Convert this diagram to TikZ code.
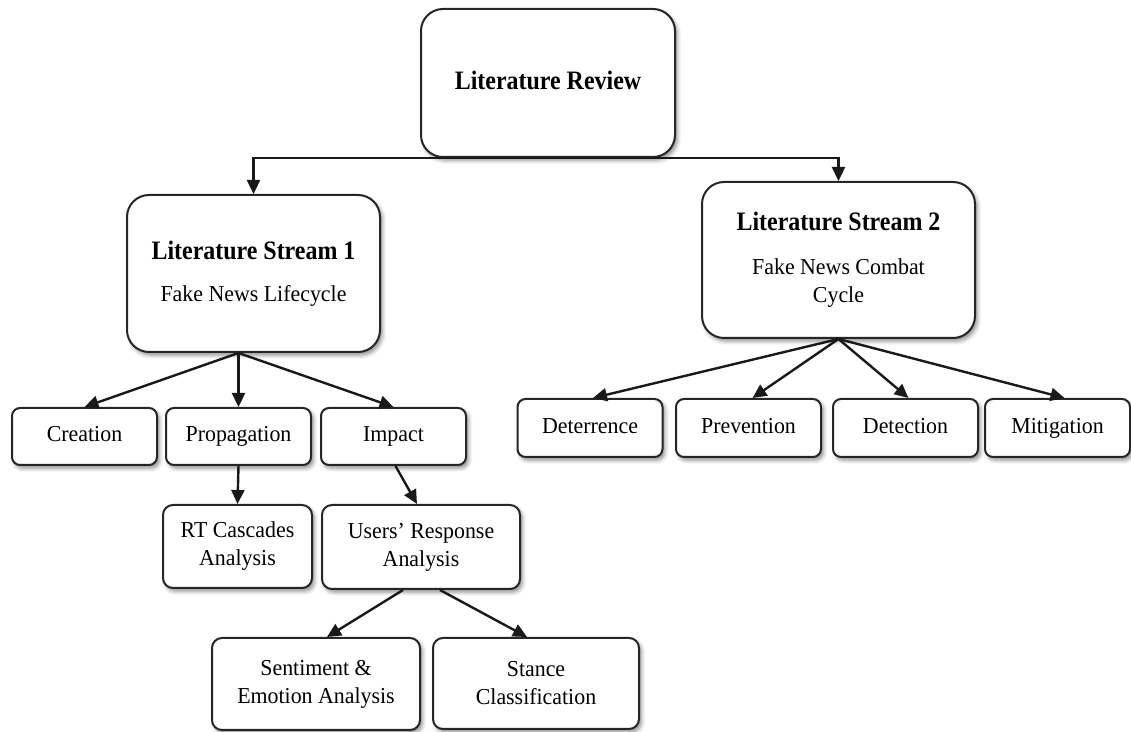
\documentclass[tikz,border=0pt]{standalone}
\usepackage{fontspec}
\setmainfont{Liberation Serif}[FakeStretch=0.96]
\newfontfamily\headfont{Liberation Serif}[FakeStretch=0.9]
\usetikzlibrary{arrows.meta,shadows.blur,calc}
\newcommand{\headtext}[1]{{\headfont\bfseries\fontsize{13.3}{14}\selectfont #1}}

\begin{document}
\begin{tikzpicture}[x=0.5pt,y=-0.5pt,
  box/.style={draw=black!85, line width=1pt, fill=white, rounded corners=4pt,
    align=center, inner sep=2pt, font=\fontsize{11.4}{14}\selectfont,
    blur shadow={shadow xshift=1.2pt, shadow yshift=-1.6pt,
      shadow blur radius=2pt, shadow opacity=45}},
  bigbox/.style={box, rounded corners=11pt},
  smallbox/.style={box, minimum width=72.5pt, minimum height=29pt,
    text height=8pt, text depth=2.5pt},
  link/.style={line width=1.2pt, draw=black!90,
    -{Triangle[length=7pt,width=6.5pt]}}
]
\useasboundingbox (0,0) rectangle (1131,732);

% top level
\node[bigbox, minimum width=127pt, minimum height=74pt] (review) at (548,83)
  {\raisebox{2.5pt}{\headtext{Literature Review}}};

% the two literature streams
\node[bigbox, minimum width=126.5pt, minimum height=78.5pt] (s1) at (253.5,273.5)
  {\raisebox{2pt}{\headtext{Literature Stream 1}}\\[7pt]\raisebox{2pt}{Fake News Lifecycle}};
\node[bigbox, minimum width=136.5pt, minimum height=78pt] (s2) at (838.5,260)
  {\headtext{Literature Stream 2}\\[8pt]Fake News Combat\\Cycle};

% stream 1: lifecycle stages
\node[smallbox, minimum height=28.5pt] (creation) at (84.5,436.5) {Creation};
\node[smallbox, minimum height=28.5pt] (prop) at (238.5,436.5) {Propagation};
\node[smallbox, minimum height=28.5pt] (impact) at (393.5,436.5) {Impact};

% stream 2: combat stages
\node[smallbox] (deter) at (590,428) {Deterrence};
\node[smallbox] (prev) at (748.5,428) {Prevention};
\node[smallbox] (detect) at (905.5,428) {Detection};
\node[smallbox] (mitig) at (1057.5,428) {Mitigation};

% analyses
\node[box, rounded corners=5pt, minimum width=74.5pt, minimum height=41.5pt] (rt) at (237.5,546.5)
  {RT Cascades\\Analysis};
\node[box, rounded corners=5pt, minimum width=99pt, minimum height=42pt] (users) at (421,547)
  {Users’ Response\\Analysis};
\node[box, rounded corners=5pt, minimum width=104pt, minimum height=46pt] (sent) at (316,684)
  {Sentiment \&\\Emotion Analysis};
\node[box, rounded corners=5pt, minimum width=103pt, minimum height=45.5pt] (stance) at (536,683.5)
  {Stance\\Classification};

% connectors
\draw[link] (review.south) -| (s1.north);
\draw[link] (review.south) -| (s2.north);

\coordinate (s1out) at (s1.south -| prop.north);
\draw[link] (s1out) -- (creation.north);
\draw[link] (s1out) -- (prop.north);
\draw[link] (s1out) -- (impact.north);

\draw[link] (s2.south) -- ([xshift=1.5pt]deter.north);
\draw[link] (s2.south) -- ([xshift=2pt]prev.north);
\draw[link] (s2.south) -- ([xshift=1.5pt]detect.north);
\draw[link] (s2.south) -- ([xshift=3.5pt]mitig.north);

\draw[link] (prop.south) -- (rt.north);
\draw[link] ([xshift=1pt]impact.south) -- ([xshift=-2pt]users.north);

\draw[link] ([xshift=-9pt]users.south) -- ([xshift=5.5pt]sent.north);
\draw[link] ([xshift=9.5pt]users.south) -- ([xshift=-4.5pt]stance.north);
\end{tikzpicture}
\end{document}
